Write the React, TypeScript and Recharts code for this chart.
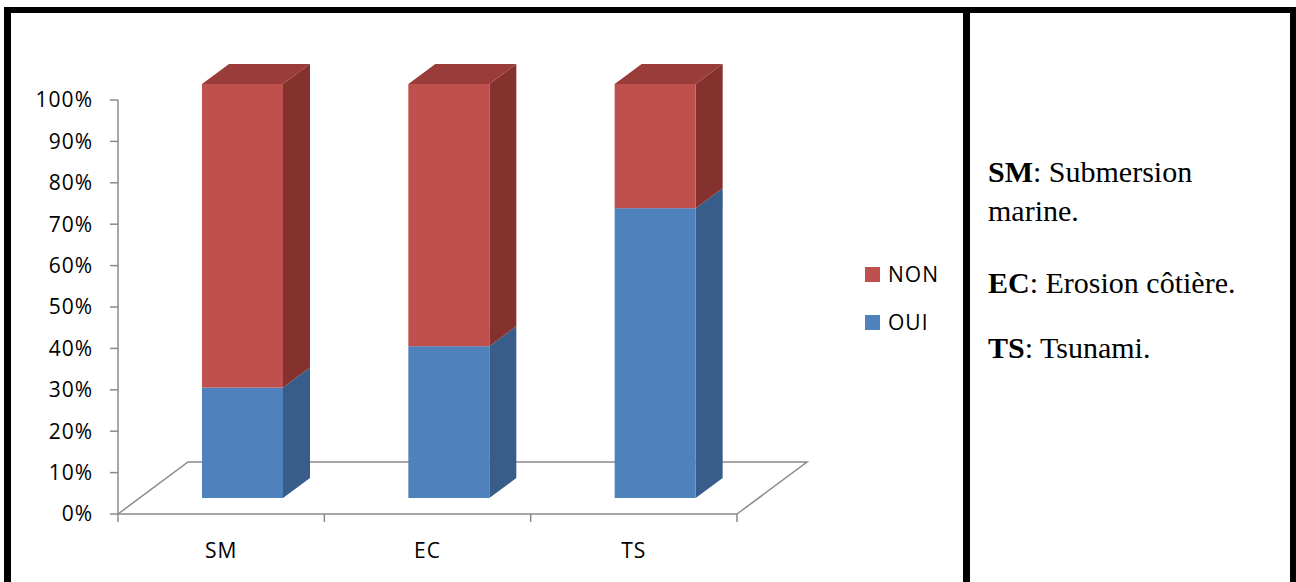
import React from 'react'
import { BarChart, Bar, XAxis, YAxis, Legend, ReferenceArea } from 'recharts'

// survey answers per hazard (30 respondents)
const categories = ['SM', 'EC', 'TS']
const ouiValues = [8, 11, 21]
const nonValues = [22, 19, 9]
const yTicks = [0, 0.1, 0.2, 0.3, 0.4, 0.5, 0.6, 0.7, 0.8, 0.9, 1]

const notes = [
  { abbr: 'SM', text: ': Submersion', extra: 'marine.' },
  { abbr: 'EC', text: ': Erosion côtière.' },
  { abbr: 'TS', text: ': Tsunami.' }
]

const data = categories.map((name, i) => ({
  name,
  oui: ouiValues[i],
  non: nonValues[i]
}))

const AXIS = '#8a8a8a'
const FONT = '"Open Sans", sans-serif'

// offset of bar front face relative to axis plane, and bar depth
const SHIFT_X = 21
const SHIFT_Y = -16
const DEPTH_X = 27
const DEPTH_Y = -20
// floor depth
const FLOOR_X = 70
const FLOOR_Y = -52

const colors = {
  oui: { front: '#4F81BD', side: '#385D8A', top: '#416A9C' },
  non: { front: '#C0504D', side: '#85322F', top: '#9A3D3A' }
}

function Box3D(props: any) {
  const { x, y, width, height, kind } = props
  if (x == null || height == null) return null
  const c = colors[kind as 'oui' | 'non']
  const fx = x + SHIFT_X
  const fy = y + SHIFT_Y
  const w = width
  const h = height
  const side = `${fx + w},${fy} ${fx + w + DEPTH_X},${fy + DEPTH_Y} ${fx + w + DEPTH_X},${fy + h + DEPTH_Y} ${fx + w},${fy + h}`
  const top = `${fx},${fy} ${fx + DEPTH_X},${fy + DEPTH_Y} ${fx + w + DEPTH_X},${fy + DEPTH_Y} ${fx + w},${fy}`
  return (
    <g>
      {kind === 'non' && <polygon points={top} fill={c.top} />}
      <polygon points={side} fill={c.side} />
      <rect x={fx} y={fy} width={w} height={h} fill={c.front} />
    </g>
  )
}

function Floor(props: any) {
  const { x, y, width, height } = props
  const base = y + height
  const pts = `${x + FLOOR_X},${base + FLOOR_Y} ${x + width + FLOOR_X},${base + FLOOR_Y} ${x + width},${base}`
  return (
    <g>
      <polyline points={`${x},${base} ${pts}`} fill="none" stroke={AXIS} strokeWidth={1.5} />
    </g>
  )
}

function XTick(props: any) {
  const { x, y, payload, index } = props
  const off = payload.offset || 0
  return (
    <g>
      <line x1={x - off} y1={y} x2={x - off} y2={y + 8} stroke={AXIS} strokeWidth={1.5} />
      {index === categories.length - 1 && (
        <line x1={x + off} y1={y} x2={x + off} y2={y + 8} stroke={AXIS} strokeWidth={1.5} />
      )}
      <text x={x} y={y + 44} textAnchor="middle" fill="#000" fontSize={21} fontFamily={FONT} letterSpacing={1}>
        {payload.value}
      </text>
    </g>
  )
}

function LegendBox() {
  const items = [
    { label: 'NON', color: colors.non.front },
    { label: 'OUI', color: colors.oui.front }
  ]
  return (
    <div style={{ fontFamily: FONT, fontSize: 21, color: '#000' }}>
      {items.map((it) => (
        <div key={it.label} style={{ display: 'flex', alignItems: 'center', height: 48 }}>
          <span style={{ display: 'inline-block', width: 15, height: 15, background: it.color, marginRight: 8 }} />
          <span style={{ letterSpacing: 1 }}>{it.label}</span>
        </div>
      ))}
    </div>
  )
}

export default function App() {
  return (
    <div style={{ position: 'absolute', left: 0, top: 0, width: 1296, height: 582, background: '#fff', overflow: 'hidden' }}>
      <div style={{ position: 'absolute', left: 0, top: 0 }}>
        <BarChart
          width={960}
          height={582}
          data={data}
          stackOffset="expand"
          margin={{ top: 100, right: 223, bottom: 0, left: 0 }}
        >
          <ReferenceArea x1="SM" x2="TS" y1={0} y2={0.05} shape={<Floor />} ifOverflow="visible" />
          <XAxis
            dataKey="name"
            height={68}
            axisLine={{ stroke: AXIS, strokeWidth: 1.5 }}
            tickLine={false}
            tickSize={0}
            tickMargin={0}
            tick={<XTick />}
            interval={0}
          />
          <YAxis
            width={118}
            domain={[0, 1]}
            ticks={yTicks}
            tickFormatter={(v: number) => `${Math.round(v * 100)}%`}
            axisLine={{ stroke: AXIS, strokeWidth: 1.5 }}
            tickLine={{ stroke: AXIS, strokeWidth: 1.5 }}
            tickSize={8}
            tickMargin={17}
            tick={{ fill: '#000', fontSize: 21, fontFamily: FONT, letterSpacing: 1 }}
          />
          <Legend
            layout="vertical"
            align="center"
            verticalAlign="middle"
            wrapperStyle={{ left: 865, top: 250, width: 100 }}
            content={() => <LegendBox />}
          />
          <Bar dataKey="oui" name="OUI" stackId="a" barSize={81} isAnimationActive={false}
            shape={(p: any) => <Box3D {...p} kind="oui" />} />
          <Bar dataKey="non" name="NON" stackId="a" barSize={81} isAnimationActive={false}
            shape={(p: any) => <Box3D {...p} kind="non" />} />
        </BarChart>
      </div>

      {/* frame */}
      <div style={{ position: 'absolute', left: 4, top: 7, width: 1292, height: 620, boxSizing: 'border-box', borderLeft: '7px solid #000', borderTop: '6px solid #000', borderRight: '6px solid #000' }} />
      <div style={{ position: 'absolute', left: 963, top: 7, width: 7, height: 600, background: '#000' }} />

      {/* abbreviations */}
      <div style={{ position: 'absolute', left: 988, top: 0, fontFamily: '"Liberation Serif", "Times New Roman", serif', fontSize: 30, color: '#000' }}>
        {notes.map((n, i) => {
          const base = [182, 293, 358][i]
          return (
            <React.Fragment key={n.abbr}>
              <div style={{ position: 'absolute', left: 0, top: base - 27, whiteSpace: 'nowrap', lineHeight: '34px' }}>
                <b>{n.abbr}</b>{n.text}
              </div>
              {n.extra && (
                <div style={{ position: 'absolute', left: 0, top: base + 39 - 27, whiteSpace: 'nowrap', lineHeight: '34px' }}>
                  {n.extra}
                </div>
              )}
            </React.Fragment>
          )
        })}
      </div>
    </div>
  )
}
